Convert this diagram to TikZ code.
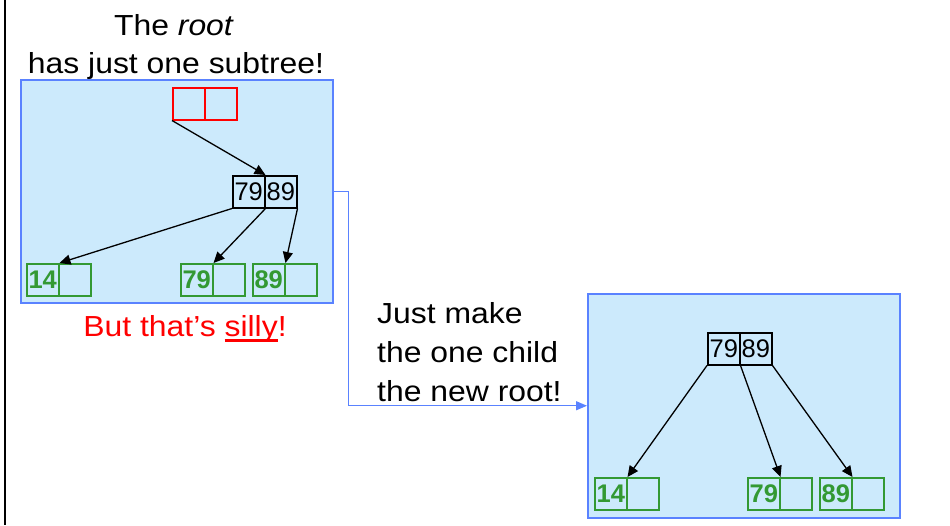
\documentclass[tikz,border=0pt]{standalone}
\usepackage{fontspec}
\setmainfont{Liberation Sans}
\newfontfamily\widesans{Liberation Sans}[FakeStretch=1.1]
\usetikzlibrary{arrows.meta}

\definecolor{panelfill}{RGB}{204,234,252}
\definecolor{panelline}{RGB}{90,130,255}
\definecolor{leafgreen}{RGB}{51,153,51}
\definecolor{rootred}{RGB}{255,0,0}

\tikzset{
  panel/.style={draw=panelline, line width=1.5pt, fill=panelfill, rectangle,
    minimum width=312pt, minimum height=223pt, inner sep=0pt, anchor=north west},
  cell/.style={draw, rectangle, minimum width=32pt, minimum height=32pt,
    inner sep=0pt, anchor=north west, line width=1.5pt,
    font=\fontsize{25.5}{25.5}\selectfont},
  keycell/.style={cell, draw=black, text=black},
  rootcell/.style={cell, draw=rootred},
  leafcell/.style={cell, draw=leafgreen, text=leafgreen,
    font=\fontsize{25.5}{25.5}\selectfont\bfseries},
  treeedge/.style={draw=black, line width=1.3pt, -{Triangle[length=11pt,width=10pt]}},
  conn/.style={draw=panelline, line width=1.4pt, -{Triangle[length=11pt,width=9pt]}},
  caption/.style={anchor=base, inner sep=0pt, font=\widesans\fontsize{29}{35}\selectfont},
}

\begin{document}
\begin{tikzpicture}[x=1pt, y=-1pt]
\useasboundingbox (0,0) rectangle (950,525);

% left frame line
\draw[line width=2.5pt] (5,0) -- (5,525);

% ---------- before: root with a single child ----------
\node[panel] (Lbox) at (20,79) {};

\node[rootcell] (Lra) at (172,87) {};
\node[rootcell] (Lrb) at (204,87) {};

\node[keycell] (Lka) at (232,175) {79};
\node[keycell] (Lkb) at (264,175) {89};

\node[leafcell] (L14a) at (26,263) {14};
\node[leafcell] (L14b) at (58,263) {};
\node[leafcell] (L79a) at (180,263) {79};
\node[leafcell] (L79b) at (212,263) {};
\node[leafcell] (L89a) at (252,263) {89};
\node[leafcell] (L89b) at (284,263) {};

\draw[treeedge] (Lra.south west) -- (Lka.north east);
\draw[treeedge] (Lka.south west) -- (L14a.north east);
\draw[treeedge] (Lka.south east) -- (L79a.north east);
\draw[treeedge] (Lkb.south east) -- (L89a.north east);

\node[caption] (t1) at (174,35) {The \textit{root}};
\node[caption] (t2) at (176,73) {has just one subtree!};
\node[caption, text=rootred] (t3) at (185,336)
  {But that’s \setbox0\hbox{silly}\rlap{\rule[-6pt]{\wd0}{2.6pt}}\box0!};

% ---------- after: the child becomes the root ----------
\node[panel, minimum height=224pt] (Rbox) at (587,293) {};

\node[keycell] (Rka) at (707,332) {79};
\node[keycell] (Rkb) at (739,332) {89};

\node[leafcell] (R14a) at (594,477) {14};
\node[leafcell] (R14b) at (626,477) {};
\node[leafcell] (R79a) at (747,477) {79};
\node[leafcell] (R79b) at (779,477) {};
\node[leafcell] (R89a) at (819,477) {89};
\node[leafcell] (R89b) at (851,477) {};

\draw[treeedge] (Rka.south west) -- (R14a.north east);
\draw[treeedge] (Rka.south east) -- (R79a.north east);
\draw[treeedge] (Rkb.south east) -- (R89a.north east);

% connector between the two panels
\draw[conn] (Lbox.east) -- ++(15,0) |- (Rbox.west);

\node[caption, anchor=base west] (j1) at (377,323) {Just make};
\node[caption, anchor=base west] (j2) at (377,362) {the one child};
\node[caption, anchor=base west] (j3) at (377,401) {the new root!};
\end{tikzpicture}
\end{document}
